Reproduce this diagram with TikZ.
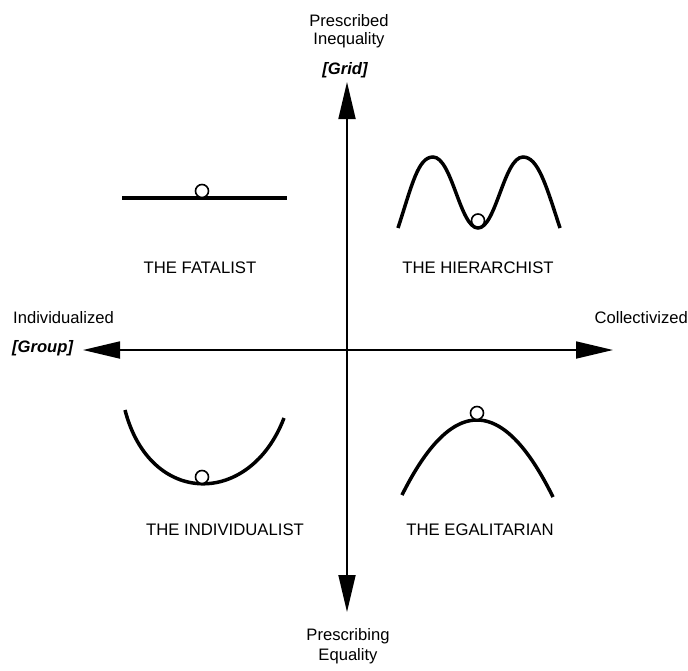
\documentclass[tikz,border=0pt]{standalone}
\usepackage{fontspec}
\setmainfont{Liberation Sans}
\usetikzlibrary{arrows.meta}
\tikzset{
  axis/.style={line width=1.8pt,-{Triangle[length=37pt,width=17pt]}},
  curve/.style={line width=3.5pt},
  ball/.style={circle,draw,line width=1.6pt,fill=white,minimum size=13pt,inner sep=0pt},
  lbl/.style={inner sep=0pt,font=\fontsize{16.7}{19}\selectfont},
  ax/.style={inner sep=0pt,font=\fontsize{16.6}{19}\selectfont},
  axb/.style={inner sep=0pt,font=\fontsize{16.6}{19}\selectfont\bfseries\itshape}
}
\begin{document}
\begin{tikzpicture}[x=1pt,y=-1pt]
\useasboundingbox (0,0) rectangle (688,670);
% axes
\coordinate (c) at (347,350);
\coordinate (top) at (347,82);
\coordinate (bot) at (347,612);
\coordinate (lft) at (83,350);
\coordinate (rgt) at (613,350);
\draw[axis] (c) -- (top);
\draw[axis] (c) -- (bot);
\draw[axis] (c) -- (lft);
\draw[axis] (c) -- (rgt);
% axis labels
\node[ax] (pi1) at (349,21) {Prescribed};
\node[ax] (pi2) at (349,40) {Inequality};
\node[axb] (grid) at (345,70) {[Grid]};
\node[ax,anchor=west] (ind) at (13,318) {Individualized};
\node[axb,anchor=west] (grp) at (12,348) {[Group]};
\node[ax,anchor=east] (col) at (688,318) {Collectivized};
\node[ax] (pe1) at (348,636) {Prescribing};
\node[ax] (pe2) at (348,656) {Equality};
% fatalist
\draw[curve] (122,198) -- (287,198);
\node[ball] (bf) at (202,191) {};
\node[lbl] (lf) at (200,268) {THE FATALIST};
% hierarchist
\draw[curve] (398,228) .. controls (412,185) and (418,157) .. (433,157)
  .. controls (452,157) and (460,228) .. (478,228)
  .. controls (496,228) and (504,157) .. (523,157)
  .. controls (538,157) and (546,185) .. (560,228);
\node[ball] (bh) at (478,220.5) {};
\node[lbl] (lh) at (478,268) {THE HIERARCHIST};
% individualist
\draw[curve] (125,410) .. controls (150,507) and (250,507) .. (284,418);
\node[ball] (bi) at (202,477) {};
\node[lbl] (li) at (225,530) {THE INDIVIDUALIST};
% egalitarian
\draw[curve] plot[domain=402:553,samples=80,smooth] (\x,{420+0.01333*(\x-477)*(\x-477)});
\node[ball] (be) at (477,413) {};
\node[lbl] (le) at (480,530) {THE EGALITARIAN};
\end{tikzpicture}
\end{document}
